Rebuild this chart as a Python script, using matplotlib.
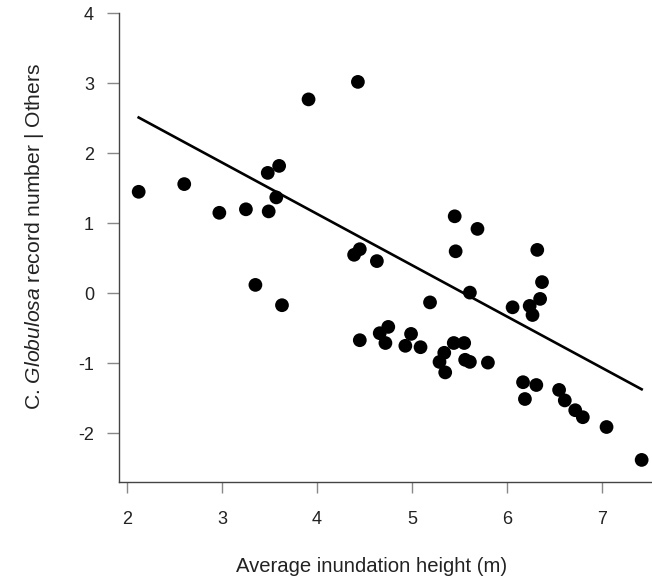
import numpy as np
import matplotlib
matplotlib.use('Agg')
import matplotlib.pyplot as plt

# inundation height (m) vs partial residual of record number
height = [2.12, 2.60, 2.97, 3.25, 3.49, 3.48, 3.60, 3.57, 3.35, 3.63,
          3.91, 4.43, 4.39, 4.45, 4.63, 5.45, 5.69, 5.46, 5.61, 5.19,
          4.45, 4.66, 4.75, 4.72, 4.99, 4.93, 5.09, 5.44, 5.55, 5.34,
          5.29, 5.35, 5.56, 5.61, 5.80, 6.32, 6.37, 6.35, 6.24, 6.27,
          6.06, 6.17, 6.31, 6.19, 6.55, 6.61, 6.72, 6.80, 7.05, 7.42]
resid = [1.45, 1.56, 1.15, 1.20, 1.17, 1.72, 1.82, 1.37, 0.12, -0.17,
         2.77, 3.02, 0.55, 0.63, 0.46, 1.10, 0.92, 0.60, 0.01, -0.13,
         -0.67, -0.57, -0.48, -0.71, -0.58, -0.75, -0.77, -0.71, -0.71, -0.85,
         -0.98, -1.13, -0.95, -0.98, -0.99, 0.62, 0.16, -0.08, -0.18, -0.31,
         -0.20, -1.27, -1.31, -1.51, -1.38, -1.53, -1.67, -1.77, -1.91, -2.38]
# fitted line as drawn in the figure (intercept, slope)
fit_a = 4.064
fit_b = -0.7325
xticks = [2, 3, 4, 5, 6, 7]
yticks = [-2, -1, 0, 1, 2, 3, 4]

plt.rcParams['font.family'] = ['Liberation Sans', 'DejaVu Sans']
plt.rcParams['mathtext.fontset'] = 'custom'
plt.rcParams['mathtext.rm'] = 'Liberation Sans'
plt.rcParams['mathtext.it'] = 'Liberation Sans:italic'

x = np.array(height)
y = np.array(resid)

fig = plt.figure(figsize=(6.52, 5.85), dpi=100)
ax = fig.add_axes([0.1825, 0.1766, 0.8175, 0.8007])

ax.scatter(x, y, s=98, c='black', edgecolors='none', zorder=3)

# line over the data range
xl = np.array([x.min(), x.max()])
ax.plot(xl, fit_a + fit_b * xl, color='black', lw=1.9, zorder=2)

ax.set_xlim(1.9125, 7.529)
ax.set_ylim(-2.691, 4.0)
ax.set_xticks(xticks)
ax.set_yticks(yticks)
ax.set_xticklabels([str(v) for v in xticks])
ax.set_yticklabels([str(v) for v in yticks])

for s in ['top', 'right']:
    ax.spines[s].set_visible(False)
for s in ['left', 'bottom']:
    ax.spines[s].set_color('#444444')
    ax.spines[s].set_linewidth(1.0)

ax.tick_params(axis='x', direction='out', length=8, width=1, color='#888888',
               labelsize=13, labelcolor='#222222', pad=13)
ax.tick_params(axis='y', direction='out', length=9, width=1, color='#888888',
               labelsize=13, labelcolor='#222222', pad=9)

ax.set_xlabel('Average inundation height (m)', fontsize=14.6, color='#222222')
ax.set_ylabel('C. $\\mathit{Globulosa}$ record number | Others', fontsize=15.2,
              color='#222222')
ax.xaxis.set_label_coords(0.473, -0.161)
ax.yaxis.set_label_coords(-0.137, 0.523)

plt.savefig('out.png', dpi=100)
